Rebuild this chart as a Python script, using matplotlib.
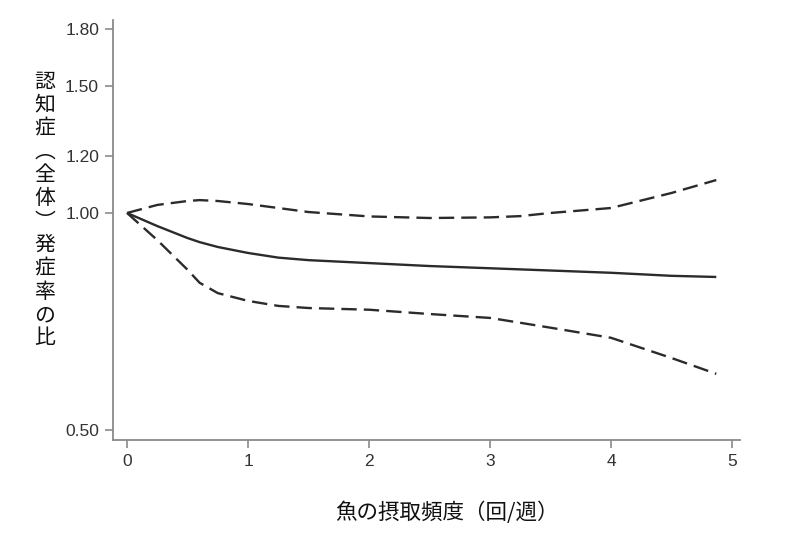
import matplotlib
matplotlib.use("Agg")
import matplotlib.pyplot as plt
from matplotlib.ticker import FixedLocator, FixedFormatter, NullLocator

plt.rcParams['font.family'] = ['Liberation Sans', 'DejaVu Sans']

x = [0, 0.25, 0.5, 0.6, 0.75, 1.0, 1.25, 1.5, 2.0, 2.5, 3.0, 3.25, 3.5, 4.0, 4.5, 4.87]
estimate = [1.0, 0.959, 0.923, 0.911, 0.897, 0.880, 0.867, 0.860, 0.852, 0.844, 0.838, 0.835, 0.832, 0.826, 0.818, 0.815]
upper = [1.0, 1.026, 1.039, 1.042, 1.039, 1.029, 1.016, 1.003, 0.989, 0.984, 0.986, 0.990, 1.000, 1.016, 1.066, 1.111]
lower = [1.0, 0.917, 0.834, 0.800, 0.774, 0.755, 0.743, 0.738, 0.734, 0.724, 0.715, 0.704, 0.693, 0.671, 0.629, 0.598]

yticks = [0.50, 1.00, 1.20, 1.50, 1.80]
ytick_labels = ["0.50", "1.00", "1.20", "1.50", "1.80"]
xticks = [0, 1, 2, 3, 4, 5]
xtick_labels = ["0", "1", "2", "3", "4", "5"]

ylabel = "認知症︵全体︶発症率の比"
xlabel = "魚の摂取頻度（回/週）"

fig = plt.figure(figsize=(7.9, 5.48), dpi=100)
ax = fig.add_axes([113/790, 1 - 440/548, (740-113)/790, (440-20)/548])

line_color = "#2b2b2b"
ax.plot(x, estimate, color=line_color, lw=1.7, solid_capstyle='butt')
ax.plot(x, upper, color=line_color, lw=1.7, dashes=(6.5, 3))
ax.plot(x, lower, color=line_color, lw=1.7, dashes=(6.5, 3))

ax.set_yscale('log')
ax.set_xlim(-0.116, 5.066)
ax.set_ylim(0.484, 1.853)
ax.yaxis.set_major_locator(FixedLocator(yticks))
ax.yaxis.set_major_formatter(FixedFormatter(ytick_labels))
ax.yaxis.set_minor_locator(NullLocator())
ax.set_xticks(xticks)
ax.set_xticklabels(xtick_labels)

spine_color = "#8a8a8a"
for s in ['top', 'right']:
    ax.spines[s].set_visible(False)
for s in ['left', 'bottom']:
    ax.spines[s].set_color(spine_color)
    ax.spines[s].set_linewidth(1.3)
ax.tick_params(axis='both', which='major', direction='out', length=6, width=1.2,
               color=spine_color, labelcolor="#333333", labelsize=12.5, pad=4)

jp = ['Noto Sans CJK JP', 'DejaVu Sans']
fig.text(447/790, 1 - 513/548, xlabel, ha='center', va='center', fontsize=15.5,
         family=jp, color="#111111")
fig.text(45/790, 1 - 210/548, "\n".join(ylabel), ha='center', va='center', fontsize=15,
         family=jp, color="#111111", linespacing=1.08)

fig.savefig("out.png", dpi=100)
